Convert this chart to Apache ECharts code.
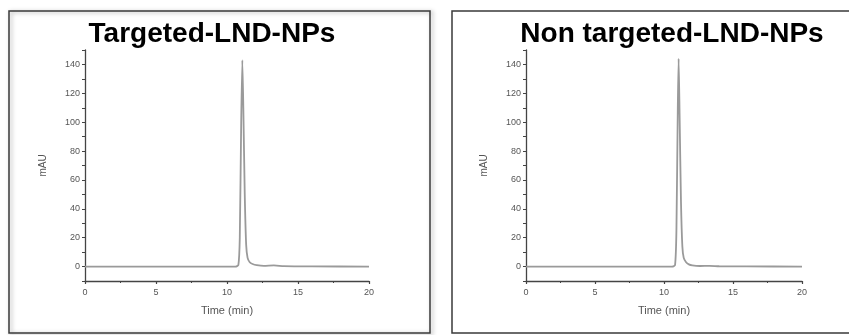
<!DOCTYPE html>
<html>
<head>
<meta charset="utf-8">
<script src="https://cdn.jsdelivr.net/npm/echarts@6/dist/echarts.min.js"></script>
<style>
html,body{margin:0;padding:0;background:#fff;}
#c{width:849px;height:335px;}
</style>
</head>
<body>
<div id="c"></div>
<script>
// ---- data ----
const titles = ["Targeted-LND-NPs", "Non targeted-LND-NPs"];
const xAxisName = "Time (min)";
const yAxisName = "mAU";
const xTicks = [0, 5, 10, 15, 20];
const yTicks = [0, 20, 40, 60, 80, 100, 120, 140];

const targetedTime = [0, 5, 10, 10.6, 10.8, 10.9, 11.0, 11.08, 11.15, 11.25, 11.35, 11.45, 11.6, 11.8, 12.1, 12.6, 13.3, 14, 16, 20];
const targetedMAU  = [0, 0, 0, 0, 1, 20, 100, 143, 110, 50, 15, 6, 3, 1.8, 1, 0.5, 0.8, 0.3, 0.1, 0];

const nonTargetedTime = [0, 5, 10, 10.6, 10.8, 10.9, 11.0, 11.06, 11.13, 11.23, 11.33, 11.43, 11.6, 11.8, 12.05, 12.6, 13.3, 14, 16, 20];
const nonTargetedMAU  = [0, 0, 0, 0, 1, 25, 110, 144, 105, 45, 14, 6, 3, 1.5, 0.8, 0.4, 0.5, 0.2, 0.1, 0];

function pairs(xs, ys) { return xs.map((x, i) => [x, ys[i]]); }

const chart = echarts.init(document.getElementById('c'), null, {renderer: 'canvas'});

const grids = [
  {left: 85, right: 480, top: 50, bottom: 54},
  {left: 526, right: 47, top: 50, bottom: 54}
];

const axisColor = '#444';
const labelColor = '#555';
const font = 'Liberation Sans, Arial, sans-serif';

function xAxis(i) {
  return {
    type: 'value', gridIndex: i, min: 0, max: 20, interval: 5,
    name: xAxisName, nameLocation: 'middle', nameGap: 24,
    nameTextStyle: {color: labelColor, fontSize: 11, fontFamily: font},
    axisLine: {show: true, onZero: false, lineStyle: {color: axisColor, width: 1.3}},
    axisTick: {show: true, length: 3, lineStyle: {color: axisColor, width: 1.2}},
    minorTick: {show: true, splitNumber: 2, length: 2, lineStyle: {color: axisColor, width: 1}},
    axisLabel: {color: labelColor, fontSize: 9, fontFamily: font, margin: 7,
      formatter: v => xTicks.includes(v) ? String(v) : ''},
    splitLine: {show: false}
  };
}
function yAxis(i) {
  return {
    type: 'value', gridIndex: i, min: -10, max: 150, interval: 10,
    name: yAxisName, nameLocation: 'middle', nameGap: 37, nameRotate: 90,
    nameTextStyle: {color: labelColor, fontSize: 10, fontFamily: font},
    axisLine: {show: true, onZero: false, lineStyle: {color: axisColor, width: 1.3}},
    axisTick: {show: true, length: 3, lineStyle: {color: axisColor, width: 1}},
    axisLabel: {color: labelColor, fontSize: 9, fontFamily: font, margin: 5,
      formatter: v => yTicks.includes(v) ? String(v) : ''},
    splitLine: {show: false}
  };
}

const option = {
  backgroundColor: '#fff',
  animation: false,
  title: [
    {text: titles[0], left: 207, top: 15, textAlign: 'center',
      textStyle: {fontSize: 28, fontWeight: 'bold', color: '#000', fontFamily: font}},
    {text: titles[1], left: 667, top: 15, textAlign: 'center',
      textStyle: {fontSize: 28, fontWeight: 'bold', color: '#000', fontFamily: font}}
  ],
  grid: grids,
  xAxis: [xAxis(0), xAxis(1)],
  yAxis: [yAxis(0), yAxis(1)],
  graphic: [
    {type: 'rect', shape: {x: 9, y: 11, width: 421, height: 322}, z: -1,
      style: {fill: 'none', stroke: '#3a3a3a', lineWidth: 1.5, shadowBlur: 4, shadowOffsetX: 2, shadowOffsetY: 1, shadowColor: 'rgba(0,0,0,0.35)'}},
    {type: 'rect', shape: {x: 452, y: 11, width: 410, height: 322}, z: -1,
      style: {fill: 'none', stroke: '#3a3a3a', lineWidth: 1.5}}
  ],
  series: [
    {type: 'line', xAxisIndex: 0, yAxisIndex: 0, data: pairs(targetedTime, targetedMAU),
      showSymbol: false, smooth: 0.2, lineStyle: {color: '#9a9a9a', width: 1.8}},
    {type: 'line', xAxisIndex: 1, yAxisIndex: 1, data: pairs(nonTargetedTime, nonTargetedMAU),
      showSymbol: false, smooth: 0.2, lineStyle: {color: '#9a9a9a', width: 1.8}}
  ]
};
chart.setOption(option);
</script>
</body>
</html>
